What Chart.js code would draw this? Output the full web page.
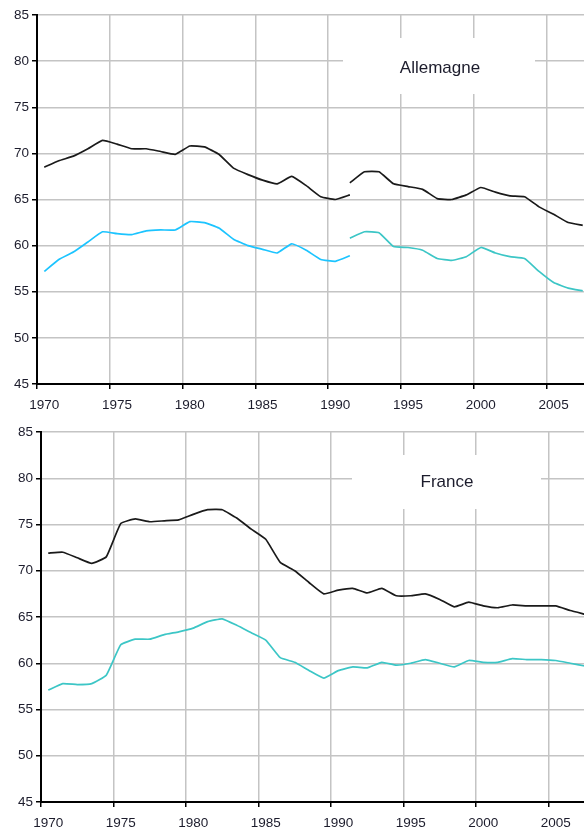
<!DOCTYPE html>
<html>
<head>
<meta charset="utf-8">
<script src="https://cdn.jsdelivr.net/npm/chart.js@4.4.1/dist/chart.umd.min.js"></script>
<style>
	html, body { margin: 0; padding: 0; background: #fff; overflow: hidden; width: 584px; height: 827px; }
	canvas { position: absolute; left: 0; }
	#chart-allemagne { top: 0; }
	#chart-france { top: 412px; }
</style>
</head>
<body>
<canvas id="chart-allemagne" width="600" height="412"></canvas>
<canvas id="chart-france" width="600" height="420"></canvas>
<script>
//
// Data
//

var years = [];
for (var y = 1970; y <= 2007; y++) years.push(y);

var yTicks = [45, 50, 55, 60, 65, 70, 75, 80, 85];

// Allemagne (ex-RFA 1970-1991, puis Allemagne unifiee 1991-2007)
var deWestStart = 1970;
var deWestDark = [68.5, 69.2, 69.7, 70.5, 71.4, 71.0, 70.5, 70.5, 70.2, 69.9, 70.8, 70.7, 69.9, 68.4, 67.7, 67.1, 66.7, 67.5, 66.5, 65.3, 65.0, 65.5];
var deWestBlue = [57.2, 58.5, 59.3, 60.4, 61.5, 61.3, 61.2, 61.6, 61.7, 61.7, 62.6, 62.5, 61.9, 60.7, 60.0, 59.6, 59.2, 60.2, 59.5, 58.5, 58.3, 58.9];

var deUnifiedStart = 1991;
var deUnifiedDark = [66.8, 68.0, 68.0, 66.7, 66.4, 66.1, 65.1, 65.0, 65.5, 66.3, 65.8, 65.4, 65.3, 64.2, 63.4, 62.5, 62.2];
var deUnifiedTeal = [60.8, 61.5, 61.4, 59.9, 59.8, 59.5, 58.6, 58.4, 58.8, 59.8, 59.2, 58.8, 58.6, 57.2, 56.0, 55.4, 55.1];

// France
var frStart = 1970;
var frDark = [71.9, 72.0, 71.4, 70.8, 71.5, 75.1, 75.6, 75.3, 75.4, 75.5, 76.1, 76.6, 76.6, 75.7, 74.5, 73.4, 70.9, 70.0, 68.7, 67.5, 67.9, 68.1, 67.6, 68.1, 67.3, 67.3, 67.5, 66.9, 66.1, 66.6, 66.2, 66.0, 66.3, 66.2, 66.2, 66.2, 65.7, 65.3];
var frTeal = [57.1, 57.8, 57.7, 57.8, 58.7, 62.0, 62.6, 62.6, 63.1, 63.4, 63.8, 64.5, 64.8, 64.1, 63.3, 62.5, 60.6, 60.1, 59.2, 58.4, 59.2, 59.6, 59.5, 60.1, 59.8, 60.0, 60.4, 60.0, 59.6, 60.3, 60.1, 60.1, 60.5, 60.4, 60.4, 60.3, 60.0, 59.7];


//
// Methods
//

// Spread a series over the full year axis
function pad(start, values) {
	return years.map(function(yr) {
		var v = values[yr - start];
		return v === undefined ? null : v;
	});
}

function line(values, color) {
	return {
		data: values,
		borderColor: color,
		borderWidth: 1.7,
		pointRadius: 0,
		tension: 0.12,
		spanGaps: false,
		fill: false
	};
}

// White box with the country name, over the grid
var labelBox = {
	id: 'labelBox',
	beforeDatasetsDraw: function(chart, args, opts) {
		var ctx = chart.ctx, a = chart.chartArea;
		ctx.save();
		ctx.fillStyle = '#fff';
		ctx.fillRect(a.left + opts.x0, a.top + opts.y0, opts.x1 - opts.x0, opts.y1 - opts.y0);
		ctx.fillStyle = '#1c1c2c';
		ctx.font = '17px "Liberation Sans", Arial, sans-serif';
		ctx.textAlign = 'center';
		ctx.textBaseline = 'middle';
		ctx.fillText(opts.text, a.left + opts.tx, a.top + opts.ty);
		ctx.restore();
	}
};

var gridGray = '#c4c4c4';
var font = { family: '"Liberation Sans", Arial, sans-serif', size: 13.5 };

function makeChart(el, datasets, cfg) {
	return new Chart(el, {
		type: 'line',
		data: { labels: years, datasets: datasets },
		plugins: [labelBox],
		options: {
			responsive: false,
			animation: false,
			layout: { padding: { top: cfg.padTop, right: cfg.padRight, left: 0, bottom: 0 } },
			plugins: {
				legend: { display: false },
				tooltip: { enabled: false },
				labelBox: cfg.box
			},
			scales: {
				x: {
					type: 'category',
					offset: true,
					grid: {
						offset: true,
						lineWidth: 1.5,
						tickLength: 5,
						color: function(c) { return c.index % 5 === 0 ? gridGray : 'rgba(0,0,0,0)'; },
						tickColor: function(c) { return c.index % 5 === 0 ? '#000' : 'rgba(0,0,0,0)'; }
					},
					border: { color: '#000', width: 2 },
					ticks: {
						autoSkip: false,
						maxRotation: 0,
						minRotation: 0,
						padding: 8,
						color: '#1c1c2c',
						font: font,
						callback: function(v, i) { return years[i] % 5 === 0 ? String(years[i]) : ''; }
					},
					afterFit: function(s) { s.height = cfg.xHeight; }
				},
				y: {
					min: yTicks[0],
					max: yTicks[yTicks.length - 1],
					afterBuildTicks: function(s) { s.ticks = yTicks.map(function(v) { return { value: v }; }); },
					grid: { color: gridGray, lineWidth: 1.5, tickLength: 5, tickColor: '#000' },
					border: { color: '#000', width: 2 },
					ticks: { padding: 3, color: '#1c1c2c', font: font },
					afterFit: function(s) { s.width = cfg.yWidth; }
				}
			}
		}
	});
}


// Init charts
makeChart(document.getElementById('chart-allemagne'), [
	line(pad(deWestStart, deWestDark), '#1a1a1a'),
	line(pad(deWestStart, deWestBlue), '#1cc4ff'),
	line(pad(deUnifiedStart, deUnifiedDark), '#1a1a1a'),
	line(pad(deUnifiedStart, deUnifiedTeal), '#3cc6c6')
], {
	padTop: 15, padRight: 10, xHeight: 28, yWidth: 37,
	box: { text: 'Allemagne', x0: 306, x1: 498, y0: 23, y1: 79, tx: 403, ty: 53 }
});

makeChart(document.getElementById('chart-france'), [
	line(pad(frStart, frDark), '#1a1a1a'),
	line(pad(frStart, frTeal), '#3cc6c6')
], {
	padTop: 20, padRight: 8, xHeight: 30, yWidth: 41,
	box: { text: 'France', x0: 311, x1: 500, y0: 23, y1: 77, tx: 406, ty: 50 }
});
</script>
</body>
</html>
